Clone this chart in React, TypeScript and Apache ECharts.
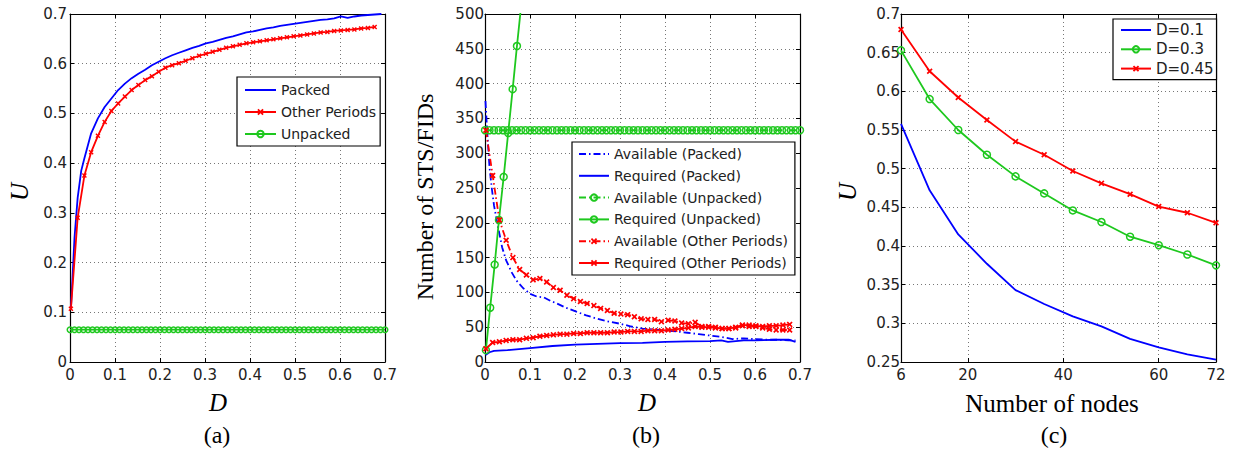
import React, { useEffect, useRef } from 'react';
import * as echarts from 'echarts';

// ---------- Panel (a) / (b) shared D grids ----------
const otherD = [0.002, 0.017, 0.032, 0.047, 0.062, 0.077, 0.092, 0.107, 0.122, 0.137, 0.152, 0.167, 0.182, 0.197, 0.212, 0.227, 0.242, 0.257, 0.272, 0.287, 0.302, 0.317, 0.332, 0.347, 0.362, 0.377, 0.392, 0.407, 0.422, 0.437, 0.452, 0.467, 0.482, 0.497, 0.512, 0.527, 0.542, 0.557, 0.572, 0.587, 0.602, 0.617, 0.632, 0.647, 0.662, 0.677];
const denseD = [0, 0.01, 0.02, 0.03, 0.04, 0.05, 0.06, 0.07, 0.08, 0.09, 0.1, 0.11, 0.12, 0.13, 0.14, 0.15, 0.16, 0.17, 0.18, 0.19, 0.2, 0.21, 0.22, 0.23, 0.24, 0.25, 0.26, 0.27, 0.28, 0.29, 0.3, 0.31, 0.32, 0.33, 0.34, 0.35, 0.36, 0.37, 0.38, 0.39, 0.4, 0.41, 0.42, 0.43, 0.44, 0.45, 0.46, 0.47, 0.48, 0.49, 0.5, 0.51, 0.52, 0.53, 0.54, 0.55, 0.56, 0.57, 0.58, 0.59, 0.6, 0.61, 0.62, 0.63, 0.64, 0.65, 0.66, 0.67, 0.68, 0.69, 0.7];

// ---------- Panel (a) ----------
const packedD = [0.002, 0.01, 0.017, 0.025, 0.032, 0.047, 0.062, 0.077, 0.092, 0.107, 0.122, 0.137, 0.152, 0.167, 0.182, 0.197, 0.212, 0.227, 0.242, 0.257, 0.272, 0.287, 0.302, 0.317, 0.332, 0.347, 0.362, 0.377, 0.392, 0.407, 0.422, 0.437, 0.452, 0.467, 0.482, 0.497, 0.512, 0.527, 0.542, 0.557, 0.572, 0.587, 0.602, 0.617, 0.632, 0.647, 0.662, 0.677, 0.692];
const packedU = [0.105, 0.25, 0.33, 0.385, 0.41, 0.46, 0.49, 0.513, 0.53, 0.547, 0.56, 0.571, 0.58, 0.588, 0.597, 0.604, 0.611, 0.617, 0.622, 0.627, 0.632, 0.636, 0.641, 0.644, 0.648, 0.652, 0.655, 0.659, 0.663, 0.665, 0.668, 0.671, 0.673, 0.676, 0.678, 0.68, 0.682, 0.684, 0.686, 0.688, 0.689, 0.691, 0.695, 0.692, 0.695, 0.697, 0.698, 0.699, 0.7];
const otherU = [0.107, 0.29, 0.375, 0.422, 0.455, 0.483, 0.505, 0.52, 0.534, 0.547, 0.557, 0.567, 0.575, 0.584, 0.592, 0.597, 0.601, 0.606, 0.611, 0.616, 0.62, 0.624, 0.628, 0.632, 0.635, 0.638, 0.641, 0.643, 0.645, 0.647, 0.649, 0.651, 0.653, 0.655, 0.657, 0.659, 0.661, 0.663, 0.664, 0.666, 0.667, 0.668, 0.669, 0.671, 0.672, 0.674];
const unpackedU = [0.065, 0.065, 0.065, 0.065, 0.065, 0.065, 0.065, 0.065, 0.065, 0.065, 0.065, 0.065, 0.065, 0.065, 0.065, 0.065, 0.065, 0.065, 0.065, 0.065, 0.065, 0.065, 0.065, 0.065, 0.065, 0.065, 0.065, 0.065, 0.065, 0.065, 0.065, 0.065, 0.065, 0.065, 0.065, 0.065, 0.065, 0.065, 0.065, 0.065, 0.065, 0.065, 0.065, 0.065, 0.065, 0.065, 0.065, 0.065, 0.065, 0.065, 0.065, 0.065, 0.065, 0.065, 0.065, 0.065, 0.065, 0.065, 0.065, 0.065, 0.065, 0.065, 0.065, 0.065, 0.065, 0.065, 0.065, 0.065, 0.065, 0.065, 0.065];

// ---------- Panel (b) ----------
const availPackedD = [0.001, 0.005, 0.01, 0.015, 0.02, 0.029, 0.038, 0.047, 0.06, 0.07, 0.085, 0.1, 0.115, 0.13, 0.145, 0.16, 0.18, 0.2, 0.225, 0.25, 0.275, 0.3, 0.325, 0.35, 0.375, 0.4, 0.425, 0.45, 0.475, 0.5, 0.525, 0.55, 0.575, 0.6, 0.625, 0.65, 0.675, 0.69];
const availPacked = [375, 330, 280, 250, 225, 194, 165, 146, 128, 117, 106, 98, 94, 93, 88, 84, 78, 73, 67, 62, 58, 55, 51, 48, 47, 45, 44, 42, 40, 38, 36, 33, 34, 33, 32, 32, 31, 31];
const reqPackedD = [0.001, 0.01, 0.02, 0.05, 0.1, 0.15, 0.2, 0.25, 0.3, 0.35, 0.4, 0.45, 0.5, 0.525, 0.54, 0.575, 0.6, 0.65, 0.675, 0.69];
const reqPacked = [10, 14, 16, 17, 20, 23, 25, 26, 27, 27.5, 29, 29.5, 30, 31, 29, 31, 31, 32, 32, 29];
const availUnpacked = [333, 333, 333, 333, 333, 333, 333, 333, 333, 333, 333, 333, 333, 333, 333, 333, 333, 333, 333, 333, 333, 333, 333, 333, 333, 333, 333, 333, 333, 333, 333, 333, 333, 333, 333, 333, 333, 333, 333, 333, 333, 333, 333, 333, 333, 333, 333, 333, 333, 333, 333, 333, 333, 333, 333, 333, 333, 333, 333, 333, 333, 333, 333, 333, 333, 333, 333, 333, 333, 333, 333];
const reqUnpackedD = [0.002, 0.0115, 0.0215, 0.031, 0.0415, 0.0515, 0.0615, 0.071, 0.081];
const reqUnpacked = [17, 78, 140, 204, 266, 329, 392, 454, 516];
const availOther = [333, 268, 204, 175, 150, 133, 125, 118, 120, 115, 107, 103, 96, 91, 87, 84, 81, 77, 74, 70, 69, 68, 65, 62, 61, 61, 58, 60, 59, 56, 55, 57, 51, 51, 50, 48, 48, 49, 52, 51, 51, 49, 47, 46, 46, 46];
const reqOther = [19, 28, 29, 31, 32, 32, 34, 35, 37, 38, 39, 40, 40, 41, 41, 42, 42, 42, 42, 43, 43, 44, 44, 44, 45, 45, 45, 46, 47, 48, 49, 51, 50, 50, 49, 48, 48, 50, 53, 53, 52, 51, 52, 52, 53, 54];

// ---------- Panel (c) ----------
const nodes = [6, 12, 18, 24, 30, 36, 42, 48, 54, 60, 66, 72];
const u01 = [0.558, 0.472, 0.415, 0.377, 0.343, 0.325, 0.309, 0.296, 0.28, 0.269, 0.26, 0.253];
const u03 = [0.653, 0.59, 0.55, 0.518, 0.49, 0.468, 0.446, 0.431, 0.412, 0.401, 0.389, 0.375];
const u045 = [0.68, 0.626, 0.592, 0.563, 0.535, 0.518, 0.497, 0.481, 0.467, 0.451, 0.443, 0.43];
const nodeTicks = [6, 20, 40, 60, 72];

const BLUE = '#0000ff';
const RED = '#ff0000';
const GREEN = '#1ec81e';
const XMARK = 'path://M0,2L2,0L5,3L8,0L10,2L7,5L10,8L8,10L5,7L2,10L0,8L3,5Z';
const TICK_FONT = 'DejaVu Sans';
const SERIF = 'Liberation Serif';

const pairs = (xs: number[], ys: number[]) => xs.map((x, i) => [x, ys[i]]);

function mainX(gridIndex: number, min: number, max: number, interval?: number, custom?: number[]) {
  return {
    type: 'value', gridIndex, min, max, interval, position: 'bottom',
    axisLine: { show: true, onZero: false, lineStyle: { color: '#000', width: 1.2 } },
    axisTick: { show: true, inside: true, length: 4, lineStyle: { color: '#000' }, ...(custom ? { customValues: custom } : {}) },
    axisLabel: { show: true, margin: 5, color: '#222', fontFamily: TICK_FONT, fontSize: 15, ...(custom ? { customValues: custom } : {}),
      formatter: (v: number) => String(+v.toFixed(3)) },
    splitLine: { show: true, lineStyle: { color: '#777', type: [1, 3], width: 1 } },
  };
}
function topX(gridIndex: number, min: number, max: number, interval?: number, custom?: number[]) {
  return {
    type: 'value', gridIndex, min, max, interval, position: 'top',
    axisLine: { show: true, onZero: false, lineStyle: { color: '#000', width: 1.2 } },
    axisTick: { show: true, inside: true, length: 4, lineStyle: { color: '#000' }, ...(custom ? { customValues: custom } : {}) },
    axisLabel: { show: false },
    splitLine: { show: false },
  };
}
function mainY(gridIndex: number, min: number, max: number, interval: number, margin: number) {
  return {
    type: 'value', gridIndex, min, max, interval, position: 'left',
    axisLine: { show: true, onZero: false, lineStyle: { color: '#000', width: 1.2 } },
    axisTick: { show: true, inside: true, length: 4, lineStyle: { color: '#000' } },
    axisLabel: { show: true, margin, color: '#222', fontFamily: TICK_FONT, fontSize: 15,
      formatter: (v: number) => String(+v.toFixed(3)) },
    splitLine: { show: true, lineStyle: { color: '#777', type: [1, 3], width: 1 } },
  };
}
function rightY(gridIndex: number, min: number, max: number, interval: number) {
  return {
    type: 'value', gridIndex, min, max, interval, position: 'right',
    axisLine: { show: true, onZero: false, lineStyle: { color: '#000', width: 1.2 } },
    axisTick: { show: true, inside: true, length: 4, lineStyle: { color: '#000' } },
    axisLabel: { show: false },
    splitLine: { show: false },
  };
}

function line(name: string, data: number[][], xi: number, yi: number, color: string, opts: any = {}) {
  return {
    type: 'line', name, data, xAxisIndex: xi, yAxisIndex: yi,
    symbol: opts.symbol || 'none', symbolSize: opts.symbolSize || 6, showSymbol: !!opts.symbol,
    lineStyle: { color, width: 1.8, type: opts.dash || 'solid' },
    itemStyle: opts.symbol === 'circle'
      ? { color: 'transparent', borderColor: color, borderWidth: 1.5 }
      : { color, borderColor: color, borderWidth: 0 },
    color,
    silent: true, emphasis: { disabled: true }, clip: true, z: opts.z || 2,
  };
}

const DASHDOT = [7, 3, 1.5, 3];

function legend(left: number, top: number, names: string[], noMarker: string[], padding: number[], gap: number, itemWidth: number, fontSize = 14) {
  return {
    show: true, orient: 'vertical', left, top, selectedMode: false,
    backgroundColor: '#fff', borderColor: '#000', borderWidth: 1.2, borderRadius: 0,
    padding, itemGap: gap, itemWidth, itemHeight: 8,
    textStyle: { fontFamily: TICK_FONT, fontSize, color: '#222', lineHeight: 16 },
    data: names.map((n) => noMarker.includes(n) ? { name: n, itemStyle: { color: 'transparent', borderWidth: 0 } } : { name: n }),
  };
}

function text(t: string, x: number, y: number, font: string, rotate = false) {
  return {
    type: 'text', x, y, rotation: rotate ? Math.PI / 2 : 0, silent: true,
    style: { text: t, font, fill: '#000', textAlign: 'center', textVerticalAlign: 'middle' },
  };
}

export default function App() {
  const ref = useRef<HTMLDivElement>(null);
  useEffect(() => {
    const chart = echarts.init(ref.current!, undefined, { renderer: 'svg' });
    const option: any = {
      animation: false,
      backgroundColor: '#fff',
      grid: [
        { left: 70, top: 14, width: 315, height: 348, show: false },
        { left: 485, top: 14, width: 315, height: 348, show: false },
        { left: 901, top: 14, width: 315, height: 348, show: false },
      ],
      xAxis: [
        mainX(0, 0, 0.7, 0.1), topX(0, 0, 0.7, 0.1),
        mainX(1, 0, 0.7, 0.1), topX(1, 0, 0.7, 0.1),
        mainX(2, 6, 72, undefined, nodeTicks), topX(2, 6, 72, undefined, nodeTicks),
      ],
      yAxis: [
        mainY(0, 0, 0.7, 0.1, 3), rightY(0, 0, 0.7, 0.1),
        mainY(1, 0, 500, 50, 1), rightY(1, 0, 500, 50),
        mainY(2, 0.25, 0.7, 0.05, 1), rightY(2, 0.25, 0.7, 0.05),
      ],
      legend: [
        legend(237, 77, ['Packed', 'Other Periods', 'Unpacked'], ['Packed'], [5, 4, 4, 7], 6, 31),
        legend(572, 142, ['Available (Packed)', 'Required (Packed)', 'Available (Unpacked)', 'Required (Unpacked)', 'Available (Other Periods)', 'Required (Other Periods)'], ['Available (Packed)', 'Required (Packed)'], [4, 7, 4, 6], 5.8, 30),
        legend(1113, 19, ['D=0.1', 'D=0.3', 'D=0.45'], ['D=0.1'], [3, 3, 3, 7], 3.3, 30, 15),
      ],
      series: [
        // (a)
        line('Packed', pairs(packedD, packedU), 0, 0, BLUE),
        line('Other Periods', pairs(otherD, otherU), 0, 0, RED, { symbol: XMARK, symbolSize: 5 }),
        line('Unpacked', pairs(denseD, unpackedU), 0, 0, GREEN, { symbol: 'circle', symbolSize: 5.5 }),
        // (b)
        line('Available (Packed)', pairs(availPackedD, availPacked), 2, 2, BLUE, { dash: DASHDOT }),
        line('Required (Packed)', pairs(reqPackedD, reqPacked), 2, 2, BLUE),
        line('Available (Unpacked)', pairs(denseD, availUnpacked), 2, 2, GREEN, { symbol: 'circle', symbolSize: 7, dash: DASHDOT }),
        line('Required (Unpacked)', pairs(reqUnpackedD, reqUnpacked), 2, 2, GREEN, { symbol: 'circle', symbolSize: 7 }),
        line('Available (Other Periods)', pairs(otherD, availOther), 2, 2, RED, { symbol: XMARK, symbolSize: 6, dash: DASHDOT }),
        line('Required (Other Periods)', pairs(otherD, reqOther), 2, 2, RED, { symbol: XMARK, symbolSize: 6 }),
        // (c)
        line('D=0.1', pairs(nodes, u01), 4, 4, BLUE),
        line('D=0.3', pairs(nodes, u03), 4, 4, GREEN, { symbol: 'circle', symbolSize: 7 }),
        line('D=0.45', pairs(nodes, u045), 4, 4, RED, { symbol: XMARK, symbolSize: 6 }),
      ],
      graphic: {
        elements: [
          text('U', 19, 192, `italic 25px "${SERIF}"`, true),
          text('D', 218, 402, `italic 25px "${SERIF}"`),
          text('(a)', 217, 435, `24px "${SERIF}"`),
          text('Number of STS/FIDs', 425, 197, `24px "${SERIF}"`, true),
          text('D', 647, 402, `italic 25px "${SERIF}"`),
          text('(b)', 646, 435, `24px "${SERIF}"`),
          text('U', 847, 192, `italic 25px "${SERIF}"`, true),
          text('Number of nodes', 1052, 403, `25px "${SERIF}"`),
          text('(c)', 1054, 435, `24px "${SERIF}"`),
        ],
      },
    };
    chart.setOption(option);
    return () => chart.dispose();
  }, []);
  return <div ref={ref} style={{ position: 'fixed', left: 0, top: 0, width: 1237, height: 454, background: '#fff' }} />;
}
